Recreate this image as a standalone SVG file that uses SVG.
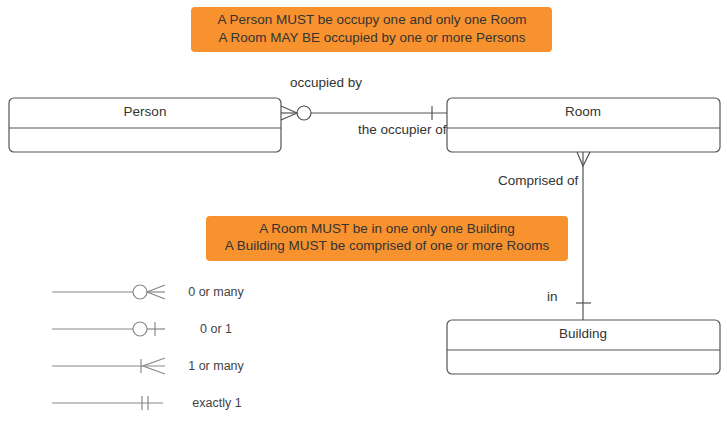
<svg xmlns="http://www.w3.org/2000/svg" width="727" height="422" viewBox="0 0 727 422">
<style>
.ent{fill:#fff;stroke:#555;stroke-width:1.2}
.div{stroke:#555;stroke-width:1.2}
.t{font-family:"Liberation Sans",Arial,sans-serif;font-size:13.5px;fill:#333}
.c{text-anchor:middle}
.ln{stroke:#555;stroke-width:1.2;fill:none}
.lg{stroke:#888;stroke-width:1.2;fill:none}
.lt{font-family:"Liberation Sans",Arial,sans-serif;font-size:12.5px;fill:#444;text-anchor:middle}
.note{fill:#F7922F}
</style>
<rect width="727" height="422" fill="#fff"/>
<g id="note1">
<rect class="note" x="191" y="7" width="361" height="45" rx="4"/>
<text class="t c" x="372" y="24">A Person MUST be occupy one and only one Room</text>
<text class="t c" x="372" y="42">A Room MAY BE occupied by one or more Persons</text>
</g>
<g id="note2">
<rect class="note" x="206" y="216" width="362" height="45" rx="4"/>
<text class="t c" x="387" y="233">A Room MUST be in one only one Building</text>
<text class="t c" x="387" y="250">A Building MUST be comprised of one or more Rooms</text>
</g>
<g id="person">
<rect class="ent" x="9" y="98" width="272" height="54" rx="5"/>
<line class="div" x1="9" y1="128" x2="281" y2="128"/>
<text class="t c" x="145" y="116">Person</text>
</g>
<g id="room">
<rect class="ent" x="447" y="98" width="273" height="54" rx="5"/>
<line class="div" x1="447" y1="128" x2="720" y2="128"/>
<text class="t c" x="583" y="116">Room</text>
</g>
<g id="building">
<rect class="ent" x="447" y="320" width="273" height="54" rx="5"/>
<line class="div" x1="447" y1="350" x2="720" y2="350"/>
<text class="t c" x="583" y="338">Building</text>
</g>
<g id="connectors">
<line class="ln" x1="311" y1="113" x2="447" y2="113"/>
<circle class="ln" cx="304" cy="113" r="7"/>
<polyline class="ln" points="281,106 297,113 281,120"/>
<line class="ln" x1="281" y1="113" x2="297" y2="113"/>
<line class="ln" x1="432" y1="106" x2="432" y2="120"/>
<text class="t" x="290" y="87">occupied by</text>
<text class="t" x="358" y="134">the occupier of</text>
<line class="ln" x1="583" y1="152" x2="583" y2="320"/>
<polyline class="ln" points="577,152 583,166 590,152"/>
<line class="ln" x1="576" y1="303" x2="591" y2="303"/>
<text class="t" x="498" y="185">Comprised of</text>
<text class="t" x="547" y="301">in</text>
</g>
<g id="legend">
<line class="lg" x1="52" y1="292" x2="133" y2="292"/>
<circle class="lg" cx="140" cy="292" r="7"/>
<polyline class="lg" points="165,285 147,292 165,299"/>
<line class="lg" x1="147" y1="292" x2="165" y2="292"/>
<text class="lt" x="216" y="296">0 or many</text>
<line class="lg" x1="52" y1="329" x2="133" y2="329"/>
<circle class="lg" cx="140" cy="329" r="7"/>
<line class="lg" x1="147" y1="329" x2="165" y2="329"/>
<line class="lg" x1="155" y1="322" x2="155" y2="336"/>
<text class="lt" x="216" y="333">0 or 1</text>
<line class="lg" x1="52" y1="366" x2="165" y2="366"/>
<line class="lg" x1="141" y1="359" x2="141" y2="373"/>
<polyline class="lg" points="165,358 143,366 165,374"/>
<text class="lt" x="216" y="370">1 or many</text>
<line class="lg" x1="52" y1="403" x2="163" y2="403"/>
<line class="lg" x1="142" y1="396" x2="142" y2="410"/>
<line class="lg" x1="148" y1="396" x2="148" y2="410"/>
<text class="lt" x="217" y="407">exactly 1</text>
</g>
</svg>
